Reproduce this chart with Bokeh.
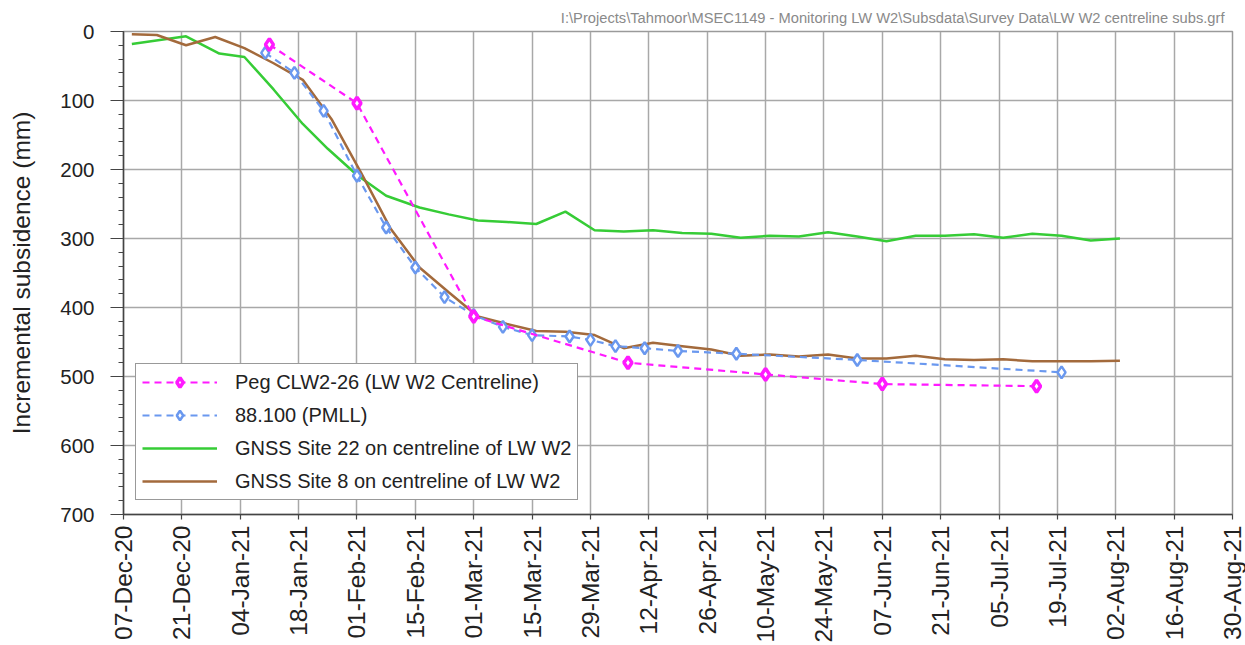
import pandas as pd
from bokeh.plotting import figure
from bokeh.models import (Range1d, FixedTicker, DatetimeTickFormatter, Legend,
                          LegendItem, Title)
from bokeh.embed import file_html
from bokeh.resources import INLINE
import math

# ---------------- data ----------------
peg_dates = ["2021-01-11", "2021-02-01", "2021-03-01", "2021-04-07", "2021-05-10",
             "2021-06-07", "2021-07-14"]
peg_vals = [19, 104, 413, 480, 497, 511, 514]

pmll_dates = ["2021-01-10", "2021-01-17", "2021-01-24", "2021-02-01", "2021-02-08",
              "2021-02-15", "2021-02-22", "2021-03-01", "2021-03-08", "2021-03-15",
              "2021-03-24", "2021-03-29", "2021-04-04", "2021-04-11", "2021-04-19",
              "2021-05-03", "2021-06-01", "2021-07-20"]
pmll_vals = [31, 60, 115, 209, 284, 342, 385, 411, 428, 440, 442, 447, 456, 459, 463,
             467, 476, 494]

gnss22_dates = ["2020-12-09", "2020-12-22", "2020-12-30", "2021-01-05", "2021-01-12",
                "2021-01-19", "2021-01-25", "2021-02-01", "2021-02-08", "2021-02-16",
                "2021-02-23", "2021-03-02", "2021-03-09", "2021-03-16", "2021-03-23",
                "2021-03-30", "2021-04-06", "2021-04-13", "2021-04-20", "2021-04-27",
                "2021-05-04", "2021-05-11", "2021-05-18", "2021-05-25", "2021-06-01",
                "2021-06-08", "2021-06-15", "2021-06-22", "2021-06-29", "2021-07-06",
                "2021-07-13", "2021-07-20", "2021-07-27", "2021-08-03"]
gnss22_vals = [18, 7, 32, 37, 84, 134, 170, 208, 238, 255, 265, 274, 276, 279, 261,
               288, 290, 288, 292, 293, 299, 296, 297, 291, 297, 304, 296, 296, 294,
               299, 293, 296, 303, 300]

gnss8_dates = ["2020-12-09", "2020-12-15", "2020-12-22", "2020-12-29", "2021-01-05",
               "2021-01-12", "2021-01-19", "2021-01-26", "2021-02-02", "2021-02-09",
               "2021-02-16", "2021-02-23", "2021-03-02", "2021-03-09", "2021-03-16",
               "2021-03-23", "2021-03-30", "2021-04-06", "2021-04-13", "2021-04-20",
               "2021-04-27", "2021-05-04", "2021-05-11", "2021-05-18", "2021-05-25",
               "2021-06-01", "2021-06-08", "2021-06-15", "2021-06-22", "2021-06-29",
               "2021-07-06", "2021-07-13", "2021-07-20", "2021-07-27", "2021-08-03"]
gnss8_vals = [4, 5, 20, 8, 24, 46, 70, 128, 205, 285, 342, 378, 413, 424, 434, 435,
              440, 459, 451, 456, 461, 470, 468, 471, 468, 474, 474, 470, 475, 476,
              475, 478, 478, 478, 477]

x_tick_dates = pd.date_range("2020-12-07", "2021-08-30", freq="14D")
y_ticks = [0, 100, 200, 300, 400, 500, 600, 700]

labels = ["Peg CLW2-26 (LW W2 Centreline)", "88.100 (PMLL)",
          "GNSS Site 22 on centreline of LW W2", "GNSS Site 8 on centreline of LW W2"]
path_text = ("I:\\Projects\\Tahmoor\\MSEC1149 - Monitoring LW W2\\Subsdata\\"
             "Survey Data\\LW W2 centreline subs.grf")

# ---------------- figure ----------------
FONT = "Liberation Sans"
p = figure(width=1245, height=645, output_backend="svg", toolbar_location=None,
           x_axis_type="datetime",
           x_range=Range1d(pd.Timestamp("2020-12-07"), pd.Timestamp("2021-08-30")),
           y_range=Range1d(700, 0),
           min_border_left=123, min_border_right=13, min_border_top=31,
           min_border_bottom=121)

t = Title(text=path_text, align="right", text_font=FONT, text_font_size="14.7px",
          text_color="#8a8a8a", text_font_style="normal", standoff=11, offset=8)
p.add_layout(t, "above")

p.outline_line_color = "#9a9a9a"
p.outline_line_width = 1.5
p.background_fill_color = "white"
p.border_fill_color = "white"

p.xgrid.grid_line_color = "#a8a8a8"
p.ygrid.grid_line_color = "#a8a8a8"
p.xgrid.grid_line_width = 1.5
p.ygrid.grid_line_width = 1.5

xt = [ts.value / 1e6 for ts in x_tick_dates]
p.xaxis.ticker = FixedTicker(ticks=xt)
fmt = "%d-%b-%y"
p.xaxis.formatter = DatetimeTickFormatter(milliseconds=fmt, seconds=fmt, minsec=fmt,
                                          minutes=fmt, hourmin=fmt, hours=fmt,
                                          days=fmt, months=fmt, years=fmt)
p.xaxis.major_label_orientation = math.pi / 2
p.yaxis.ticker = FixedTicker(ticks=y_ticks,
                             minor_ticks=list(range(0, 701, 20)))

for ax in (p.xaxis, p.yaxis):
    ax.axis_line_color = "#444444"
    ax.axis_line_width = 1.5
    ax.major_tick_line_color = "#444444"
    ax.minor_tick_line_color = "#444444"
    ax.major_tick_line_width = 1.2
    ax.major_label_text_font = FONT
    ax.major_label_text_color = "#222222"
    ax.major_tick_in = 0

p.xaxis.axis_label = None
p.xaxis.major_label_text_font_size = "24.5px"
p.yaxis.major_label_text_font_size = "20.5px"
p.xaxis.major_tick_out = 5
p.xaxis.minor_tick_out = 0
p.xaxis.major_label_standoff = 6
p.yaxis.major_tick_out = 13
p.yaxis.minor_tick_out = 5
p.yaxis.minor_tick_in = 0
p.yaxis.major_label_standoff = 16

p.yaxis.axis_label = "Incremental subsidence (mm)"
p.yaxis.axis_label_text_font = FONT
p.yaxis.axis_label_text_font_size = "24.5px"
p.yaxis.axis_label_text_font_style = "normal"
p.yaxis.axis_label_text_color = "#222222"
p.yaxis.axis_label_standoff = 22

MAG = "#ff1aff"
BLUE = "#6a98ef"
GREEN = "#36cc36"
BROWN = "#a36a3c"

g22 = p.line(pd.to_datetime(gnss22_dates), gnss22_vals, line_color=GREEN, line_width=2.5)
g8 = p.line(pd.to_datetime(gnss8_dates), gnss8_vals, line_color=BROWN, line_width=2.5)

pm_l = p.line(pd.to_datetime(pmll_dates), pmll_vals, line_color=BLUE, line_width=2.2,
              line_dash="7 5")
pm_s = p.scatter(pd.to_datetime(pmll_dates), pmll_vals, marker="diamond", size=12,
                 line_color=BLUE, fill_color="white", line_width=2.5)

pg_l = p.line(pd.to_datetime(peg_dates), peg_vals, line_color=MAG, line_width=2.2,
              line_dash="7 5")
pg_s = p.scatter(pd.to_datetime(peg_dates), peg_vals, marker="diamond", size=12,
                 line_color=MAG, fill_color="white", line_width=3.5)

legend = Legend(items=[
    LegendItem(label=labels[0], renderers=[pg_l, pg_s]),
    LegendItem(label=labels[1], renderers=[pm_l, pm_s]),
    LegendItem(label=labels[2], renderers=[g22]),
    LegendItem(label=labels[3], renderers=[g8]),
], location=(12, 14))
legend.label_text_font = FONT
legend.label_text_font_size = "20px"
legend.label_text_color = "#222222"
legend.glyph_width = 75
legend.glyph_height = 24
legend.label_height = 24
legend.spacing = 9
legend.padding = 6
legend.margin = 0
legend.label_standoff = 18
legend.border_line_color = "#333333"
legend.border_line_width = 1.2
legend.background_fill_color = "white"
legend.background_fill_alpha = 1.0
p.add_layout(legend)

open("out.html", "w").write(file_html(p, INLINE))
